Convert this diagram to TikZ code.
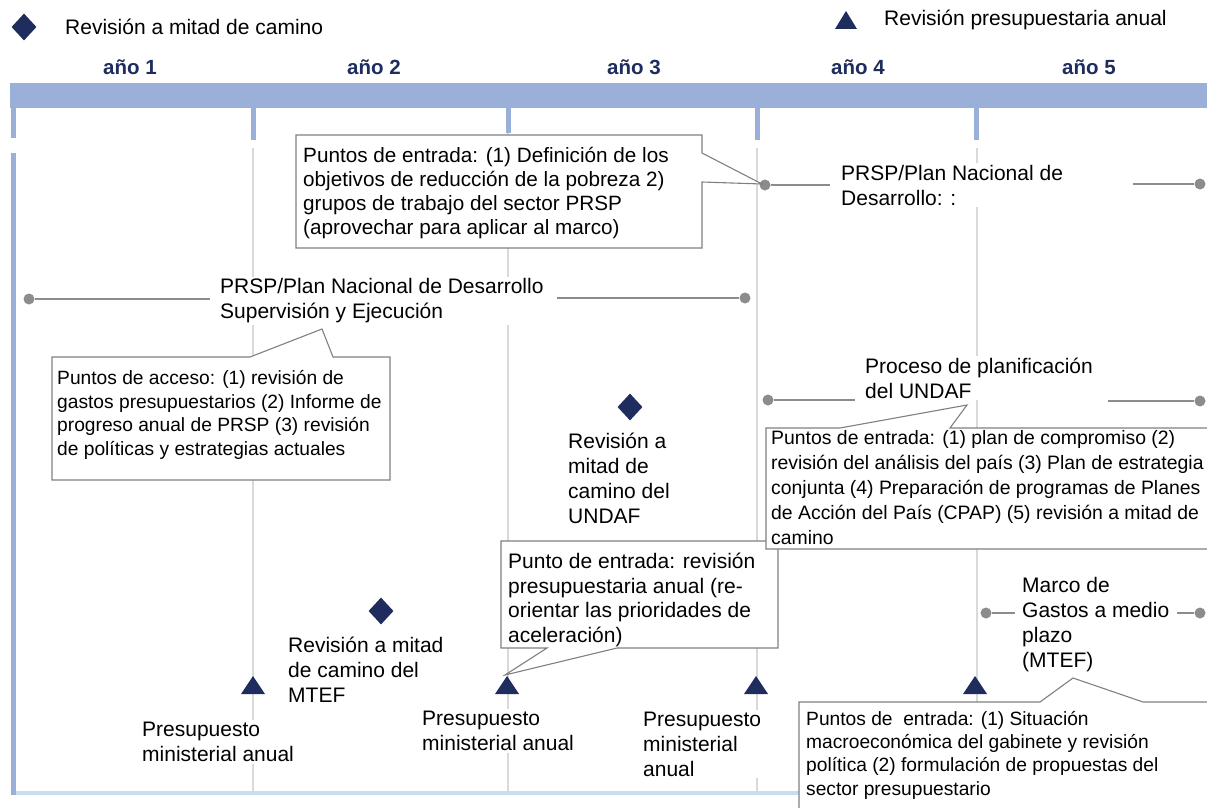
\documentclass[tikz,border=0pt]{standalone}
\usepackage{fontspec}
\setmainfont{Liberation Sans}
\usetikzlibrary{shapes.geometric}
\definecolor{navy}{RGB}{31,45,94}
\definecolor{barblue}{RGB}{155,176,216}
\definecolor{lightblue}{RGB}{198,222,242}
\definecolor{vgray}{RGB}{217,217,217}
\definecolor{dgray}{RGB}{140,140,140}
\definecolor{bgray}{RGB}{128,128,128}
\begin{document}
\begin{tikzpicture}[x=1pt,y=-1pt,
  lbl/.style={font=\fontsize{21}{25}\selectfont, align=left, fill=white, inner sep=2pt, anchor=west},
  year/.style={font=\fontsize{20.5}{24}\selectfont\bfseries, text=navy},
  ctext/.style={align=left, inner sep=0pt, anchor=west},
  callout/.style={draw=bgray, line width=1.1pt, fill=white},
  dot/.style={circle, fill=dgray, minimum size=11pt, inner sep=0pt},
  tl/.style={draw=dgray, line width=1.4pt},
  tick/.style={draw=barblue, line width=5pt},
  vline/.style={draw=vgray, line width=1.4pt},
  dmd/.style={diamond, fill=navy, minimum width=25pt, minimum height=27pt, inner sep=0pt},
]
\useasboundingbox (0,0) rectangle (1207,808);

% legend
\node[dmd] (legd) at (24,27) {};
\node[font=\fontsize{21}{25}\selectfont, anchor=west, inner sep=0pt] (legdt) at (65,27) {Revisión a mitad de camino};
\coordinate (legt) at (846,20);
\fill[navy] (legt) ++(-11,9) -- ++(22,0) -- ++(-11,-18) -- cycle;
\node[font=\fontsize{21}{25}\selectfont, anchor=west, inner sep=0pt] (legtt) at (884,20) {Revisión presupuestaria anual};

% years
\node[year] (y1) at (130,67) {año 1};
\node[year] (y2) at (374,67) {año 2};
\node[year] (y3) at (634,67) {año 3};
\node[year] (y4) at (858,67) {año 4};
\node[year] (y5) at (1089,67) {año 5};

% bar and ticks
\fill[barblue] (10,83) rectangle (1207,108);
\draw[tick] (13,108) -- (13,138);
\draw[tick] (253,108) -- (253,140);
\draw[tick] (508,108) -- (508,133);
\draw[tick] (757,108) -- (757,140);
\draw[tick] (976,108) -- (976,140);

% gray verticals
\draw[vline] (253,148) -- (253,795);
\draw[vline] (508,133) -- (508,795);
\draw[vline] (757,148) -- (757,795);
\draw[vline] (977,148) -- (977,795);

% frame lines
\draw[draw=lightblue, line width=4.5pt] (11,793) -- (800,793);
\draw[draw=barblue, line width=5pt] (13,153) -- (13,795);

% PRSP / Plan Nacional de Desarrollo (year 4-5)
\node[dot] (d1l) at (765,185) {};
\coordinate (d1le) at (830,185);
\draw[tl] (d1l) -- (d1le);
\node[lbl] (prspA) at (839,185) {PRSP/Plan Nacional de\\Desarrollo: :};
\node[dot] (d1r) at (1200,184) {};
\coordinate (d1re) at (1133,184);
\draw[tl] (d1re) -- (d1r);

% PRSP supervision
\node[dot] (d2l) at (29,299) {};
\coordinate (d2le) at (210,299);
\draw[tl] (d2l) -- (d2le);
\node[lbl] (prspB) at (218,301) {PRSP/Plan Nacional de Desarrollo\\Supervisión y Ejecución};
\node[dot] (d2r) at (745,298) {};
\coordinate (d2re) at (557,298);
\draw[tl] (d2re) -- (d2r);

% UNDAF planning
\node[dot] (d3l) at (768,400) {};
\coordinate (d3le) at (855,400);
\draw[tl] (d3l) -- (d3le);
\node[lbl] (undaf) at (863,378) {Proceso de planificación\\del UNDAF};
\node[dot] (d3r) at (1200,401) {};
\coordinate (d3re) at (1108,401);
\draw[tl] (d3re) -- (d3r);

% MTEF
\node[dot] (d4l) at (986,613) {};
\coordinate (d4le) at (1015,613);
\draw[tl] (d4l) -- (d4le);
\node[lbl] (mtef) at (1020,625) {Marco de\\Gastos a medio\\plazo\\(MTEF)};
\node[dot] (d4r) at (1200,613) {};
\coordinate (d4re) at (1177,613);
\draw[tl] (d4re) -- (d4r);

% callout 1
\coordinate (c1tip) at (762,184);
\draw[callout] (296,135) -- (702,135) -- (702,153) -- (c1tip) -- (702,182) -- (702,248) -- (296,248) -- cycle;
\node[ctext, font=\fontsize{20.7}{24}\selectfont] (c1) at (303,193) {Puntos de entrada: (1) Definición de los\\objetivos de reducción de la pobreza 2)\\grupos de trabajo del sector PRSP\\(aprovechar para aplicar al marco)};

% callout 2
\coordinate (c2tip) at (322,329);
\draw[callout] (52,357) -- (250,357) -- (c2tip) -- (333,357) -- (390,357) -- (390,480) -- (52,480) -- cycle;
\node[ctext, font=\fontsize{19.2}{23.5}\selectfont] (c2) at (57,415) {Puntos de acceso: (1) revisión de\\gastos presupuestarios (2) Informe de\\progreso anual de PRSP (3) revisión\\de políticas y estrategias actuales};

% callout 4 (annual budget review)
\coordinate (c4tip) at (505,675);
\draw[callout] (501,541) -- (778,541) -- (778,648) -- (617,648) -- (c4tip) -- (547,648) -- (501,648) -- cycle;
\node[ctext, font=\fontsize{21}{24.5}\selectfont] (c4) at (508,600) {Punto de entrada: revisión\\presupuestaria anual (re-\\orientar las prioridades de\\aceleración)};

% callout 3 (UNDAF)
\coordinate (c3tip) at (967,405);
\draw[callout] (766,428) -- (840,428) -- (c3tip) -- (950,428) -- (1215,428) -- (1215,549) -- (766,549) -- cycle;
\node[ctext, font=\fontsize{19.4}{25}\selectfont] (c3) at (771,488) {Puntos de entrada: (1) plan de compromiso (2)\\revisión del análisis del país (3) Plan de estrategia\\conjunta (4) Preparación de programas de Planes\\de Acción del País (CPAP) (5) revisión a mitad de\\camino};

% callout 5 (MTEF)
\coordinate (c5tip) at (1073,678);
\draw[callout] (799,702) -- (1040,702) -- (c5tip) -- (1143,702) -- (1215,702) -- (1215,815) -- (799,815) -- cycle;
\node[ctext, font=\fontsize{19.2}{23.3}\selectfont] (c5) at (806,755) {Puntos de\ \ entrada: (1) Situación\\macroeconómica del gabinete y revisión\\política (2) formulación de propuestas del\\sector presupuestario};

% mid-term reviews
\node[dmd] (dm1) at (630,407) {};
\node[lbl] (dm1t) at (566,478) {Revisión a\\mitad de\\camino del\\UNDAF};
\node[dmd] (dm2) at (381,611) {};
\node[lbl] (dm2t) at (286,670) {Revisión a mitad\\de camino del\\MTEF};

% annual budget triangles
\coordinate (t1) at (253,685);
\coordinate (t2) at (507,685);
\coordinate (t3) at (756,685);
\coordinate (t4) at (975,685);
\foreach \t in {t1,t2,t3,t4}{
  \fill[navy] (\t) ++(-12,9) -- ++(24,0) -- ++(-12,-18) -- cycle;
}

\node[lbl] (pm1) at (140,742) {Presupuesto\\ministerial anual};
\node[lbl] (pm2) at (420,731) {Presupuesto\\ministerial anual};
\node[lbl] (pm3) at (641,744) {Presupuesto\\ministerial\\anual};
\end{tikzpicture}
\end{document}
